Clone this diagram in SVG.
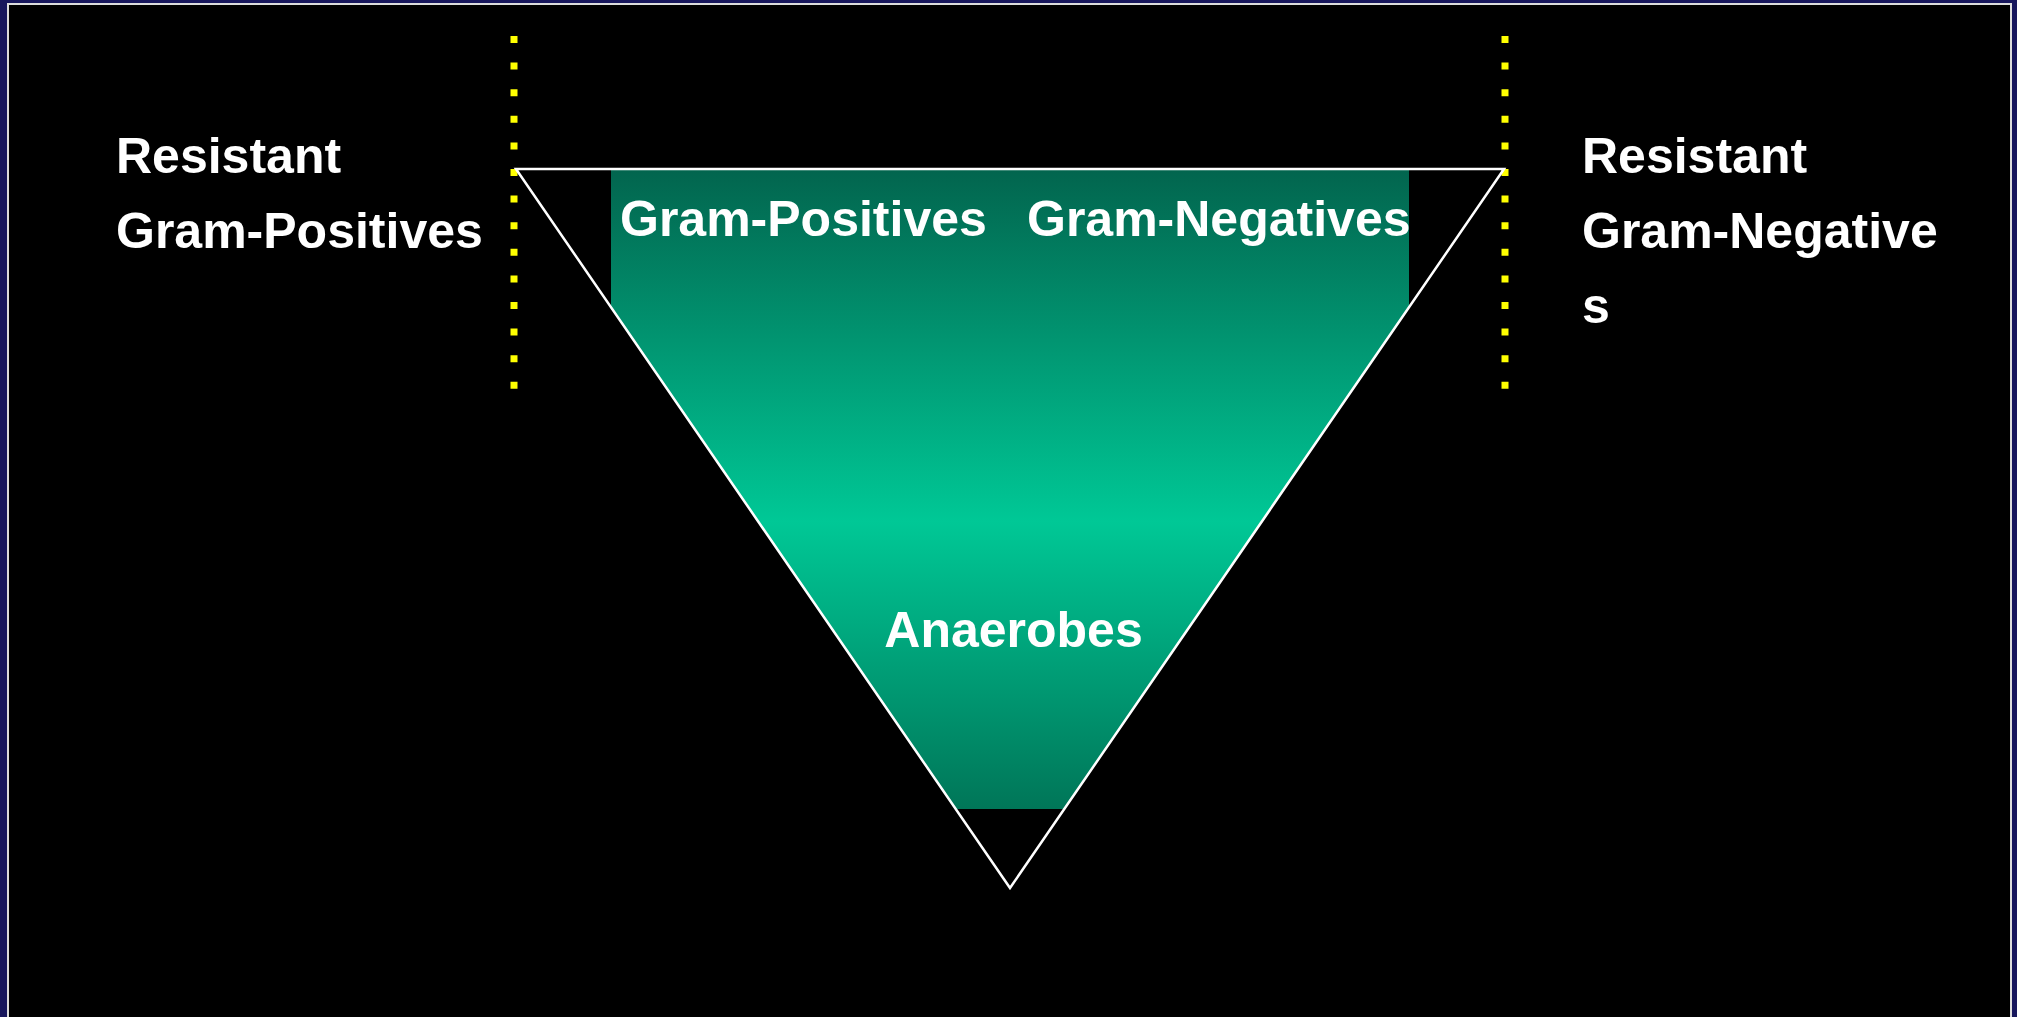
<svg xmlns="http://www.w3.org/2000/svg" width="2017" height="1017" viewBox="0 0 2017 1017">
  <defs>
    <style>
      .t { font-family: "Liberation Sans", Arial, sans-serif; font-weight: bold; font-size: 50px; fill: #FFFFFF; }
      .dots { stroke: #FFFF00; stroke-width: 7; stroke-dasharray: 7 19.6; fill: none; }
    </style>
    <linearGradient id="grn" x1="0" y1="170" x2="0" y2="809" gradientUnits="userSpaceOnUse">
      <stop offset="0" stop-color="#02654E"/>
      <stop offset="0.55" stop-color="#00C896"/>
      <stop offset="1" stop-color="#007658"/>
    </linearGradient>
    <clipPath id="tri">
      <polygon points="516,169 1504,169 1010,888"/>
    </clipPath>
  </defs>
  <rect x="0" y="0" width="2017" height="1017" fill="#17165C"/>
  <rect x="8" y="4" width="2003" height="1030" fill="#000000" stroke="#DCDCDC" stroke-width="2"/>

  <g id="dotted-lines">
    <line class="dots" x1="514" y1="36" x2="514" y2="389"/>
    <line class="dots" x1="1505" y1="36" x2="1505" y2="389"/>
  </g>

  <g id="triangle">
    <rect x="611" y="170" width="798" height="639" fill="url(#grn)" clip-path="url(#tri)"/>
    <polygon points="516,169 1504,169 1010,888" fill="none" stroke="#FFFFFF" stroke-width="2.5" stroke-linejoin="miter"/>
  </g>

  <g id="label-resistant-gp">
    <text class="t" x="116" y="173">Resistant</text>
    <text class="t" x="116" y="248">Gram-Positives</text>
  </g>
  <g id="label-resistant-gn">
    <text class="t" x="1582" y="173">Resistant</text>
    <text class="t" x="1582" y="248">Gram-Negative</text>
    <text class="t" x="1582" y="323">s</text>
  </g>
  <g id="label-gp">
    <text class="t" x="620" y="236">Gram-Positives</text>
  </g>
  <g id="label-gn">
    <text class="t" x="1027" y="236">Gram-Negatives</text>
  </g>
  <g id="label-anaerobes">
    <text class="t" x="1013.5" y="647" text-anchor="middle">Anaerobes</text>
  </g>
</svg>
